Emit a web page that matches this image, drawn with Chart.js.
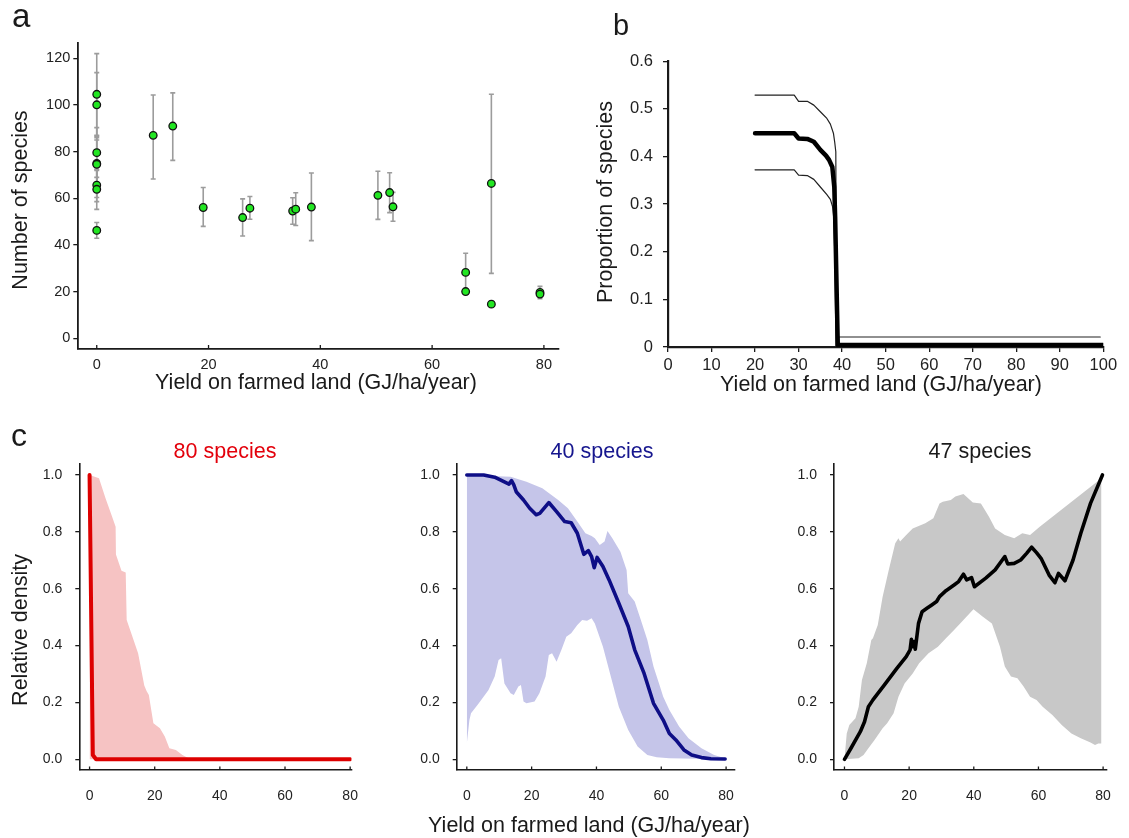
<!DOCTYPE html>
<html><head><meta charset="utf-8">
<script src="https://cdn.jsdelivr.net/npm/chart.js@4.4.1/dist/chart.umd.min.js"></script>
<style>
html,body{margin:0;padding:0;background:#fff;}
body{width:1129px;height:838px;position:relative;overflow:hidden;font-family:"Liberation Sans",Arial,sans-serif;color:#1a1a1a;}
canvas{position:absolute;}
.t{position:absolute;white-space:nowrap;line-height:1;}
.c{transform:translate(-50%,-50%);}
.r{transform:translate(-50%,-50%) rotate(-90deg);}
</style></head><body>
<canvas id="ca" width="560" height="420" style="left:0;top:0"></canvas>
<canvas id="cb" width="569" height="420" style="left:560px;top:0"></canvas>
<canvas id="c1" width="376" height="418" style="left:0;top:420px"></canvas>
<canvas id="c2" width="376" height="418" style="left:376px;top:420px"></canvas>
<canvas id="c3" width="377" height="418" style="left:752px;top:420px"></canvas>

<div class="t" style="left:12px;top:-1px;font-size:33px">a</div>
<div class="t" style="left:613px;top:11px;font-size:29px">b</div>
<div class="t" style="left:11px;top:419px;font-size:32px">c</div>

<div class="t c" style="left:316px;top:383px;font-size:21.5px">Yield on farmed land (GJ/ha/year)</div>
<div class="t r" style="left:21px;top:200px;font-size:21.5px">Number of species</div>
<div class="t c" style="left:881px;top:385px;font-size:21.5px">Yield on farmed land (GJ/ha/year)</div>
<div class="t r" style="left:606px;top:202px;font-size:21.5px">Proportion of species</div>
<div class="t r" style="left:21px;top:630px;font-size:21.5px">Relative density</div>
<div class="t c" style="left:589px;top:826px;font-size:21.5px">Yield on farmed land (GJ/ha/year)</div>
<div class="t c" style="left:225px;top:452px;font-size:21.5px;color:#e3000b">80 species</div>
<div class="t c" style="left:602px;top:452px;font-size:21.5px;color:#16168e">40 species</div>
<div class="t c" style="left:980px;top:452px;font-size:21.5px;color:#1a1a1a">47 species</div>

<script>
// ---------- Panel a: species richness vs yield ----------
const aX  = [0,0,0,0,0,0,0,0,10.1,13.6,19.05,26.1,27.4,35.05,35.6,38.4,50.3,52.4,53.0,66.0,66.0,70.6,70.6,79.3,79.3];
const aY  = [104.6,100.1,79.6,75.0,74.6,65.7,63.9,46.3,87.0,91.0,56.1,51.8,55.8,54.6,55.4,56.3,61.3,62.5,56.4,28.3,20.1,66.4,14.7,19.7,19.0];
const aLo = [86.6,86.0,69.0,63.5,60.4,58.6,55.3,42.9,68.3,76.3,48.0,43.9,51.1,48.9,48.4,41.9,51.0,53.9,50.2,20.5,null,27.9,null,17.0,null];
const aHi = [122.0,113.9,90.3,87.0,85.0,72.0,72.5,49.7,104.3,105.2,64.7,59.8,60.8,60.3,62.4,70.9,71.6,71.0,62.6,36.5,null,104.6,null,22.3,null];
const aXTicks = [0,20,40,60,80];
const aYTicks = [0,20,40,60,80,100,120];

// ---------- Panel b: proportion of species ----------
const bMeanX = [20,29,30,32,33.5,35,36.3,37,37.75,38.2,38.4,39.0,100];
const bMeanY = [0.449,0.449,0.438,0.437,0.431,0.414,0.402,0.393,0.378,0.336,0.273,0.004,0.004];
const bUpX   = [20,29,30,32,33.5,35,36.5,37.3,38,38.3,38.55,38.7,39.1,39.2,99.3];
const bUpY   = [0.529,0.529,0.516,0.516,0.508,0.494,0.48,0.468,0.449,0.43,0.41,0.0,0.0,0.021,0.021];
const bLoX   = [20,29,30,32,33.5,35,36.5,37.3,37.8,38.1,38.3,38.6,39.0];
const bLoY   = [0.372,0.372,0.361,0.36,0.352,0.336,0.32,0.31,0.295,0.27,0.2,0.0,0.0];
const bXTicks = [0,10,20,30,40,50,60,70,80,90,100];
const bYTicks = [0,0.1,0.2,0.3,0.4,0.5,0.6];

// ---------- Panel c: relative density ----------
const cXTicks = [0,20,40,60,80];
const cYTicks = [0,0.2,0.4,0.6,0.8,1.0];

const c1LineX = [0,1.0,2.0,80];
const c1LineY = [1.0,0.015,0,0];
const c1UpX = [0,2.9,4.9,6.9,8.0,8.1,9.8,11.1,11.4,12.8,14.9,16.8,17.5,18.2,19.6,21.6,23.1,24.5,26.5,28.5,30.4,32.4,80];
const c1UpY = [1.0,0.988,0.918,0.854,0.818,0.72,0.663,0.657,0.49,0.443,0.373,0.26,0.24,0.226,0.127,0.109,0.08,0.039,0.033,0.015,0.004,0,0];

const c2LineX = [0,5.2,8.6,13,13.8,14.5,15.3,17.5,19.4,21.4,22.5,25.3,27.7,30.2,32.2,34.1,36.1,37.5,38.5,39.3,40.2,42,43.9,46.9,49.8,51.8,54.7,57.6,60.6,62.5,64.5,67,69.4,72.4,75.3,79.7];
const c2LineY = [1.0,1.0,0.992,0.968,0.98,0.965,0.94,0.912,0.883,0.86,0.865,0.903,0.871,0.836,0.832,0.795,0.721,0.734,0.713,0.674,0.71,0.678,0.631,0.549,0.467,0.385,0.302,0.197,0.138,0.091,0.068,0.033,0.015,0.006,0.002,0.001];
const c2UpX = [0,13.5,18.4,23.3,28.2,31.2,34.1,36.6,38.5,39.5,41,42.5,43.4,44.9,47.4,49.3,49.8,51.8,53.7,55.7,57.6,59.6,60.6,62.5,65.5,68.4,72.4,76.3,79.7];
const c2UpY = [1.0,0.994,0.976,0.953,0.912,0.883,0.836,0.795,0.785,0.777,0.754,0.766,0.803,0.777,0.73,0.666,0.584,0.555,0.49,0.42,0.326,0.256,0.22,0.173,0.115,0.074,0.039,0.015,0.004];
const c2LoX = [0,0.8,1.3,3.7,6.7,8.6,9.8,10.6,11.6,13.5,14.5,15.9,16.7,17.5,18.4,20.9,22.4,24.3,25.3,26.3,27.7,29.2,30.7,32.2,34.1,35.6,37.1,38.5,39.5,42,43.9,46.9,49.8,52.7,55.7,58.6,62.5,79.7];
const c2LoY = [0.056,0.138,0.162,0.197,0.244,0.291,0.349,0.355,0.267,0.232,0.226,0.256,0.261,0.203,0.197,0.203,0.232,0.291,0.367,0.373,0.343,0.385,0.431,0.443,0.472,0.49,0.487,0.496,0.478,0.396,0.314,0.185,0.103,0.045,0.015,0.007,0.004,0.0];

const c3LineX = [0,2,4.9,6.2,7.4,8.8,12.3,16.2,19.1,20.3,20.7,21.1,21.6,21.9,22.9,24,25.5,27,28.5,29.4,31.4,33.9,35.3,36.8,37.8,39.3,40.2,43.7,46.6,49.6,50.5,52.5,54.5,56.4,57.9,59.4,60.8,63.3,65.1,66.2,68.2,70.7,73.1,76.1,79.8];
const c3LineY = [0,0.039,0.097,0.132,0.185,0.209,0.261,0.32,0.361,0.385,0.422,0.396,0.414,0.387,0.478,0.519,0.531,0.543,0.555,0.572,0.593,0.613,0.625,0.651,0.631,0.639,0.607,0.637,0.666,0.713,0.687,0.689,0.701,0.725,0.746,0.727,0.707,0.648,0.621,0.654,0.628,0.701,0.795,0.9,1.0];
const c3UpX = [0,0.7,1.5,3.4,4.4,5.4,6.9,8.3,8.8,10.3,11.8,13.7,15.7,16.7,17.2,19.1,21.1,25,27.5,29.4,30.4,32.9,34.3,36.8,39.7,42.2,44.7,46.6,49.6,52.5,55,57.4,60.4,79.5];
const c3UpY = [0,0.091,0.121,0.144,0.185,0.279,0.338,0.42,0.426,0.472,0.572,0.666,0.76,0.777,0.766,0.789,0.812,0.83,0.848,0.9,0.906,0.912,0.924,0.933,0.903,0.9,0.853,0.812,0.789,0.777,0.795,0.789,0.818,0.988];
const c3LoX = [0,4.4,5.9,7.4,9.3,11.8,13.2,15.2,16.7,18.6,21.1,23.1,26,28.9,31.4,33.9,36.8,39.9,42.7,45.6,48.1,49.6,51.5,53.5,55.4,57.4,59.4,61.3,64.3,67.2,70.2,73.1,76.1,77.5,78.5,79.5];
const c3LoY = [0,0.004,0.015,0.039,0.068,0.109,0.127,0.162,0.22,0.267,0.302,0.338,0.373,0.396,0.426,0.455,0.49,0.528,0.502,0.478,0.396,0.326,0.291,0.285,0.256,0.22,0.209,0.185,0.156,0.121,0.091,0.074,0.059,0.05,0.056,0.056];

// ---------- helpers ----------
const FONT = '"Liberation Sans", Arial, sans-serif';
Chart.defaults.font.family = FONT;
Chart.defaults.color = '#222';
Chart.defaults.animation = false;
Chart.defaults.plugins.legend.display = false;
Chart.defaults.plugins.tooltip.enabled = false;

const zip = (xs, ys) => xs.map((x, i) => ({x: x, y: ys[i]}));

function scale(o) {
  return {
    type: 'linear', min: o.min, max: o.max,
    border: {display: true, color: '#1a1a1a', width: o.bw},
    grid: {display: !o.inward, drawOnChartArea: false, drawTicks: !o.inward, tickLength: o.tl || 0, color: '#1a1a1a', lineWidth: 1.3},
    ticks: {font: {size: o.fs, family: FONT}, color: '#222', padding: o.pad, maxRotation: 0, autoSkip: false,
            callback: o.fmt || (v => String(v))},
    afterBuildTicks: s => { s.ticks = o.ticks.map(v => ({value: v})); },
    afterFit: s => { if (o.w != null) s.width = o.w; if (o.h != null) s.height = o.h; }
  };
}

const inTicks = {
  id: 'inTicks',
  afterDraw(chart, args, opts) {
    if (!opts || !opts.len) return;
    const xs = chart.scales.x, ctx = chart.ctx;
    ctx.save();
    ctx.strokeStyle = '#1a1a1a'; ctx.lineWidth = 1.3;
    xs.ticks.forEach(t => {
      const px = xs.getPixelForValue(t.value);
      ctx.beginPath(); ctx.moveTo(px, xs.top); ctx.lineTo(px, xs.top - opts.len); ctx.stroke();
    });
    ctx.restore();
  }
};

const errBars = {
  id: 'errBars',
  beforeDatasetsDraw(chart) {
    const xs = chart.scales.x, ys = chart.scales.y, ctx = chart.ctx;
    ctx.save();
    ctx.strokeStyle = '#9c9c9c'; ctx.lineWidth = 1.6;
    aX.forEach((x, i) => {
      if (aLo[i] == null) return;
      const px = xs.getPixelForValue(x), p1 = ys.getPixelForValue(aLo[i]), p2 = ys.getPixelForValue(aHi[i]);
      ctx.beginPath();
      ctx.moveTo(px, p1); ctx.lineTo(px, p2);
      ctx.moveTo(px - 2.5, p1); ctx.lineTo(px + 2.5, p1);
      ctx.moveTo(px - 2.5, p2); ctx.lineTo(px + 2.5, p2);
      ctx.stroke();
    });
    ctx.restore();
  }
};

const lineDs = (data, color, w, extra) => Object.assign({
  type: 'line', data: data, borderColor: color, borderWidth: w, pointRadius: 0,
  tension: 0, fill: false, borderJoinStyle: 'round', borderCapStyle: 'round'
}, extra || {});

// ---------- chart a ----------
new Chart(document.getElementById('ca'), {
  type: 'scatter',
  data: {datasets: [{
    data: zip(aX, aY), backgroundColor: '#22e622', borderColor: '#111', borderWidth: 1.3,
    pointRadius: 3.8, pointHoverRadius: 3.8
  }]},
  options: {
    responsive: false,
    layout: {padding: {left: 0, top: 42.7, right: 1, bottom: 0}, autoPadding: false},
    scales: {
      x: scale({min: -3.3, max: 82.55, ticks: aXTicks, h: 71.5, inward: true, pad: 8, fs: 14.5, bw: 1.8}),
      y: scale({min: -4.3, max: 126.7, ticks: aYTicks, w: 78.3, tl: 5, pad: 3, fs: 14.5, bw: 1.8})
    },
    plugins: {inTicks: {len: 3.5}}
  },
  plugins: [errBars, inTicks]
});

// ---------- chart b ----------
new Chart(document.getElementById('cb'), {
  type: 'line',
  data: {datasets: [
    lineDs(zip(bMeanX, bMeanY), '#000', 4.5),
    lineDs(zip(bUpX, bUpY), '#222', 1.2),
    lineDs(zip(bLoX, bLoY), '#222', 1.2)
  ]},
  options: {
    responsive: false,
    layout: {padding: {left: 0, top: 61.3, right: 25.7, bottom: 0}, autoPadding: false},
    scales: {
      x: scale({min: 0, max: 100, ticks: bXTicks, h: 73, tl: 5, pad: 4, fs: 16.5, bw: 2.2}),
      y: scale({min: 0, max: 0.6, ticks: bYTicks, w: 108, tl: 5, pad: 10, fs: 16.5, bw: 2.2})
    }
  }
});

// ---------- charts c ----------
function cChart(id, xmin, xmax, W, R, lineX, lineY, upX, upY, loX, loY, col, fillCol, lw) {
  const ds = [lineDs(zip(lineX, lineY), col, lw)];
  if (loX) {
    ds.push(lineDs(zip(upX, upY), 'rgba(0,0,0,0)', 0, {fill: '+1', backgroundColor: fillCol}));
    ds.push(lineDs(zip(loX, loY), 'rgba(0,0,0,0)', 0));
  } else {
    ds.push(lineDs(zip(upX, upY), 'rgba(0,0,0,0)', 0, {fill: 'origin', backgroundColor: fillCol}));
  }
  new Chart(document.getElementById(id), {
    type: 'line',
    data: {datasets: ds},
    options: {
      responsive: false,
      layout: {padding: {left: 0, top: 43.3, right: R, bottom: 0}, autoPadding: false},
      scales: {
        x: scale({min: xmin, max: xmax, ticks: cXTicks, h: 68, inward: true, pad: 18, fs: 14, bw: 1.6}),
        y: scale({min: -0.0376, max: 1.041, ticks: cYTicks, w: W, tl: 4, pad: 13, fs: 14, bw: 1.6, fmt: v => v.toFixed(1)})
      },
      plugins: {inTicks: {len: 3.5}}
    },
    plugins: [inTicks]
  });
}
cChart('c1', -3.15, 80.4, 79.3, 13, c1LineX, c1LineY, c1UpX, c1UpY, null, null, '#dd0000', '#f6c3c3', 4);
cChart('c2', -3.12, 82.56, 80.7, 4, c2LineX, c2LineY, c2UpX, c2UpY, c2LoX, c2LoY, '#0e0e86', '#c5c5e9', 3.6);
cChart('c3', -3.24, 81.0, 82, 9, c3LineX, c3LineY, c3UpX, c3UpY, c3LoX, c3LoY, '#000', '#c8c8c8', 3.6);
</script>
</body></html>
